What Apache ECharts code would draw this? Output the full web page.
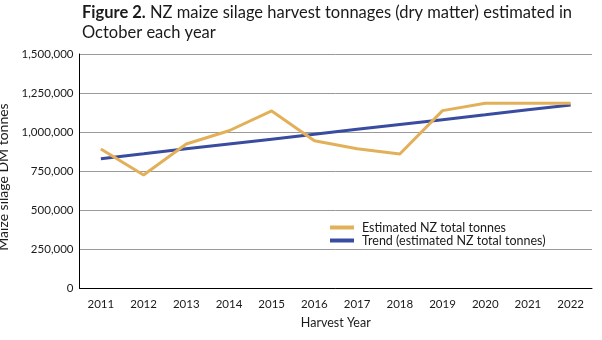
<!DOCTYPE html>
<html>
<head>
<meta charset="utf-8">
<script src="https://cdn.jsdelivr.net/npm/echarts@6/dist/echarts.min.js"></script>
<style>
  html, body { margin: 0; padding: 0; background: #fff; }
  #chart { width: 602px; height: 340px; }
</style>
</head>
<body>
<div id="chart"></div>
<script>
// Harvest years and tonnages (dry matter)
const years = ['2011', '2012', '2013', '2014', '2015', '2016', '2017', '2018', '2019', '2020', '2021', '2022'];
const estimatedTonnes = [891000, 724000, 923000, 1008000, 1135000, 944000, 893000, 859000, 1137000, 1184000, 1184000, 1184000];
const trendTonnes = [829000, 860000, 892000, 923000, 954000, 985000, 1017000, 1048000, 1079000, 1110000, 1142000, 1173000];
const yTicks = [0, 250000, 500000, 750000, 1000000, 1250000, 1500000];

const FONT = 'Lato, "Noto Sans", sans-serif';
const TEXT = '#1a1a1a';
const chart = echarts.init(document.getElementById('chart'));

chart.setOption({
  backgroundColor: '#ffffff',
  animation: false,
  textStyle: { fontFamily: FONT },
  title: {
    left: 77,
    top: -2,
    text: '{b|Figure 2.} NZ maize silage harvest tonnages (dry matter) estimated in\nOctober each year',
    textStyle: {
      fontFamily: FONT,
      fontSize: 16.5,
      fontWeight: 'normal',
      color: TEXT,
      lineHeight: 20,
      rich: {
        b: { fontFamily: FONT, fontSize: 16.5, fontWeight: 'bold', color: TEXT, lineHeight: 20 }
      }
    }
  },
  legend: {
    orient: 'vertical',
    left: 325,
    top: 216,
    itemWidth: 24,
    itemHeight: 4,
    itemGap: 0,
    textStyle: { fontFamily: FONT, fontSize: 12.5, color: TEXT, lineHeight: 13, padding: [0, 0, 0, 3] },
    data: [
      { name: 'Estimated NZ total tonnes', icon: 'rect' },
      { name: 'Trend (estimated NZ total tonnes)', icon: 'rect' }
    ]
  },
  grid: { left: 79.5, right: 10, top: 54, bottom: 52, outerBoundsMode: 'none', containLabel: false },
  xAxis: {
    type: 'category',
    data: years,
    boundaryGap: true,
    name: 'Harvest Year',
    nameLocation: 'middle',
    nameGap: 28,
    nameTextStyle: { fontFamily: FONT, fontSize: 12.5, color: TEXT },
    axisLine: { lineStyle: { color: '#000', width: 1 } },
    axisTick: { show: false },
    axisLabel: { fontFamily: FONT, fontSize: 11.5, color: TEXT, margin: 10 }
  },
  yAxis: {
    type: 'value',
    min: yTicks[0],
    max: yTicks[yTicks.length - 1],
    interval: 250000,
    name: 'Maize silage DM tonnes',
    nameLocation: 'middle',
    nameGap: 62,
    nameTextStyle: { fontFamily: FONT, fontSize: 14, color: TEXT, padding: [0, 12, 0, 0] },
    axisLine: { show: true, lineStyle: { color: '#000', width: 1 } },
    axisTick: { show: false },
    splitLine: { lineStyle: { color: '#9a9a9a', width: 1 } },
    axisLabel: {
      fontFamily: FONT, fontSize: 11.5, color: TEXT, margin: 6,
      formatter: v => v.toLocaleString('en-US')
    }
  },
  series: [
    {
      name: 'Estimated NZ total tonnes',
      type: 'line',
      data: estimatedTonnes,
      symbol: 'none',
      color: '#e3b05a',
      lineStyle: { color: '#e3b05a', width: 3 },
      z: 3
    },
    {
      name: 'Trend (estimated NZ total tonnes)',
      type: 'line',
      data: trendTonnes,
      symbol: 'none',
      color: '#3a4c9f',
      lineStyle: { color: '#3a4c9f', width: 3 },
      z: 2
    }
  ]
});
</script>
</body>
</html>
